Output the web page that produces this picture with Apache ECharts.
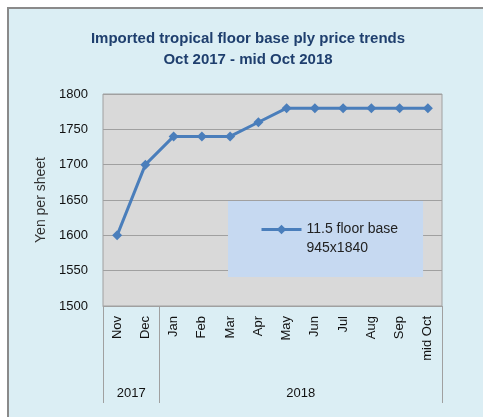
<!DOCTYPE html>
<html><head><meta charset="utf-8">
<script src="https://cdn.jsdelivr.net/npm/echarts@6/dist/echarts.min.js"></script>
<style>html,body{margin:0;padding:0;background:#fff}#c{width:483px;height:417px}</style>
</head><body><div id="c"></div>
<script>
var months = ['Nov','Dec','Jan','Feb','Mar','Apr','May','Jun','Jul','Aug','Sep','mid Oct'];
var prices = [1600,1700,1740,1740,1740,1760,1780,1780,1780,1780,1780,1780];
var years = ['2017','2018'];
var yearMonthCounts = [2,10];
var yTicks = [1500,1550,1600,1650,1700,1750,1800];
var seriesName = '11.5 floor base\n945x1840';

var bounds=[0], centers=[], s=0;
yearMonthCounts.forEach(function(n){ centers.push(s+n/2); s+=n; bounds.push(s); });

var font = 'Liberation Sans, Arial, sans-serif';
var chart = echarts.init(document.getElementById('c'), null, {renderer:'canvas'});
chart.setOption({
  backgroundColor:'#ffffff',
  animation:false,
  graphic:[{type:'rect', z:-10, shape:{x:8,y:8,width:520,height:460}, style:{fill:'#DBEEF4',stroke:'#8a8a8a',lineWidth:2}}],
  title:{text:'Imported tropical floor base ply price trends\nOct 2017 - mid Oct 2018', left:243, textAlign:'center', top:23,
    textStyle:{fontFamily:font,fontSize:15,fontWeight:'bold',color:'#1F3F6E',lineHeight:21}},
  grid:{left:103,right:41,top:94,bottom:111,show:true,backgroundColor:'#D9D9D9',borderColor:'#A0A0A0',borderWidth:1},
  legend:{show:true,left:228,top:201,orient:'vertical',backgroundColor:'#C6D9F1',padding:[0,25,19,32],
    itemWidth:40,itemHeight:12,itemGap:0,
    lineStyle:{width:3},
    formatter:function(n){return '\n'+n;},
    textStyle:{fontFamily:font,fontSize:14,color:'#222',lineHeight:19},
    data:[{name:seriesName}]},
  xAxis:[{type:'category',data:months,boundaryGap:true,
      axisLine:{lineStyle:{color:'#A0A0A0'}},axisTick:{show:false},
      axisLabel:{rotate:90,fontFamily:font,fontSize:13,color:'#111',margin:10,interval:0}},
    {type:'value',min:0,max:months.length,position:'bottom',gridIndex:0,
      axisLine:{show:false},splitLine:{show:false},
      axisTick:{show:true,length:97,inside:false,customValues:bounds,lineStyle:{color:'#A0A0A0'}},
      axisLabel:{show:true,customValues:centers,margin:81,fontFamily:font,fontSize:13,color:'#111',
        formatter:function(v){var i=centers.indexOf(v);return i>=0?years[i]:'';}}}],
  yAxis:{type:'value',min:yTicks[0],max:yTicks[yTicks.length-1],interval:50,
    name:'Yen per sheet',nameLocation:'middle',nameRotate:90,nameGap:55,
    nameTextStyle:{fontFamily:font,fontSize:14,color:'#333'},
    axisLine:{show:false},axisTick:{show:false},
    splitLine:{lineStyle:{color:'#A0A0A0'}},
    axisLabel:{fontFamily:font,fontSize:13,color:'#111',margin:15,formatter:function(v){return String(v);}}},
  series:[{name:seriesName,type:'line',data:prices,xAxisIndex:0,
    symbol:'diamond',symbolSize:10,
    lineStyle:{color:'#4A7EBB',width:3},itemStyle:{color:'#4A7EBB'}}]
});
</script></body></html>
